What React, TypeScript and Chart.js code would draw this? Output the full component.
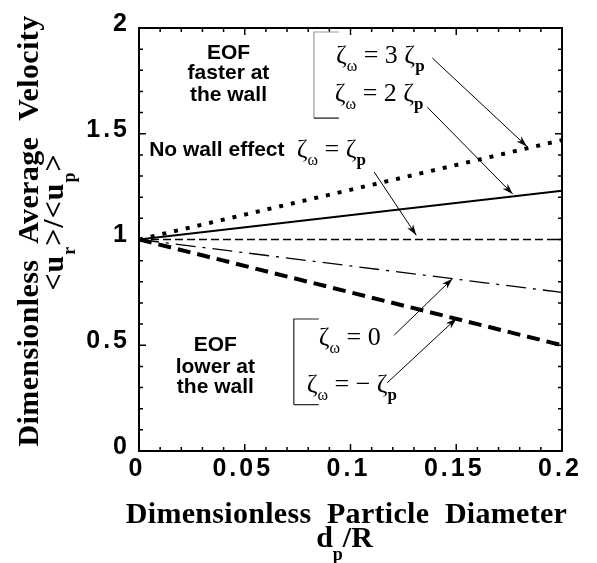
import React, { useEffect, useRef } from "react";
import { Chart, registerables } from "chart.js";
Chart.register(...registerables);

// ---- data ----
const xValues = [0, 0.2];
const seriesZeta3 = [1, 1.47]; // ζω = 3 ζp
const seriesZeta2 = [1, 1.23]; // ζω = 2 ζp
const seriesZeta1 = [1, 1.0]; // ζω = ζp
const seriesZeta0 = [1, 0.75]; // ζω = 0
const seriesZetaNeg = [1, 0.5]; // ζω = −ζp
const xTickValues = [0, 0.05, 0.1, 0.15, 0.2];
const xTickLabels = ["0", "0.05", "0.1", "0.15", "0.2"];
const yTickValues = [0, 0.5, 1, 1.5, 2];
const yTickLabels = ["0", "0.5", "1", "1.5", "2"];

const SANS = "'Liberation Sans', Arial, sans-serif";
const SERIF = "'Liberation Serif', 'Times New Roman', serif";

type Seg = { t: string; font: string; dy?: number };

function drawSegs(ctx: CanvasRenderingContext2D, segs: Seg[], x: number, y: number, align: "left" | "center" = "left") {
  let total = 0;
  const widths = segs.map((s) => {
    ctx.font = s.font;
    const w = ctx.measureText(s.t).width;
    total += w;
    return w;
  });
  let cx = align === "center" ? x - total / 2 : x;
  ctx.textAlign = "left";
  ctx.textBaseline = "alphabetic";
  segs.forEach((s, i) => {
    ctx.font = s.font;
    ctx.fillText(s.t, cx, y + (s.dy || 0));
    cx += widths[i];
  });
}

const zMain = `26px ${SERIF}`;
const zSub = `16px ${SERIF}`;
const zSubB = `bold 17px ${SERIF}`;

const eqNotes: { x: number; y: number; segs: Seg[] }[] = [
  { x: 0.0931, y: 1.835, segs: [{ t: "ζ", font: zMain }, { t: "ω", font: zSub, dy: 8 }, { t: " = 3 ", font: zMain }, { t: "ζ", font: zMain }, { t: "p", font: zSubB, dy: 8 }] },
  { x: 0.0926, y: 1.655, segs: [{ t: "ζ", font: zMain }, { t: "ω", font: zSub, dy: 8 }, { t: " = 2 ", font: zMain }, { t: "ζ", font: zMain }, { t: "p", font: zSubB, dy: 8 }] },
  { x: 0.0746, y: 1.39, segs: [{ t: "ζ", font: zMain }, { t: "ω", font: zSub, dy: 8 }, { t: " = ", font: zMain }, { t: "ζ", font: zMain }, { t: "p", font: zSubB, dy: 8 }] },
  { x: 0.085, y: 0.5, segs: [{ t: "ζ", font: zMain }, { t: "ω", font: zSub, dy: 8 }, { t: " = 0", font: zMain }] },
  { x: 0.0793, y: 0.279, segs: [{ t: "ζ", font: zMain }, { t: "ω", font: zSub, dy: 8 }, { t: " = − ", font: zMain }, { t: "ζ", font: zMain }, { t: "p", font: zSubB, dy: 8 }] },
];

const boldNotes: { x: number; y: number; t: string; align: "left" | "center" }[] = [
  { x: 0.0423, y: 1.882, t: "EOF", align: "center" },
  { x: 0.0423, y: 1.787, t: "faster at", align: "center" },
  { x: 0.0423, y: 1.683, t: "the wall", align: "center" },
  { x: 0.0048, y: 1.423, t: "No wall effect", align: "left" },
  { x: 0.0361, y: 0.501, t: "EOF", align: "center" },
  { x: 0.0361, y: 0.397, t: "lower at", align: "center" },
  { x: 0.0361, y: 0.303, t: "the wall", align: "center" },
];

const arrows = [
  { x1: 0.1387, y1: 1.858, x2: 0.1834, y2: 1.44 },
  { x1: 0.1363, y1: 1.626, x2: 0.1767, y2: 1.215 },
  { x1: 0.1112, y1: 1.319, x2: 0.1311, y2: 1.02 },
  { x1: 0.1207, y1: 0.548, x2: 0.1482, y2: 0.815 },
  { x1: 0.1173, y1: 0.322, x2: 0.1501, y2: 0.627 },
];

const brackets = [
  { x: 0.0827, xArm: 0.0945, yTop: 1.981, yBot: 1.574, color: "#999", armColor: "#111" },
  { x: 0.0732, xArm: 0.085, yTop: 0.624, yBot: 0.219, color: "#222", armColor: "#222" },
];

const decorPlugin = {
  id: "decor",
  beforeDraw(chart: any) {
    (chart.ctx as any).letterSpacing = "3px";
  },
  afterDraw(chart: any) {
    const ctx: CanvasRenderingContext2D = chart.ctx;
    (ctx as any).letterSpacing = "0px";
    const xs = chart.scales.x;
    const ys = chart.scales.y;
    const a = chart.chartArea;
    const px = (v: number) => xs.getPixelForValue(v);
    const py = (v: number) => ys.getPixelForValue(v);
    ctx.save();
    ctx.fillStyle = "#000";
    ctx.strokeStyle = "#000";

    // frame
    ctx.lineWidth = 2;
    ctx.strokeRect(a.left, a.top, a.right - a.left, a.bottom - a.top);

    // ticks (inward, all four sides)
    ctx.lineWidth = 1.5;
    ctx.beginPath();
    for (let i = 0; i <= 20; i++) {
      const v = i * 0.01;
      const len = i % 5 === 0 ? 7 : 4;
      const x = px(v);
      ctx.moveTo(x, a.bottom);
      ctx.lineTo(x, a.bottom - len);
      ctx.moveTo(x, a.top);
      ctx.lineTo(x, a.top + len);
    }
    for (let i = 0; i <= 20; i++) {
      const v = i * 0.1;
      const len = i % 5 === 0 ? 7 : 4;
      const y = py(v);
      ctx.moveTo(a.left, y);
      ctx.lineTo(a.left + len, y);
      ctx.moveTo(a.right, y);
      ctx.lineTo(a.right - len, y);
    }
    ctx.stroke();

    // brackets
    brackets.forEach((b) => {
      ctx.lineWidth = 1.2;
      ctx.strokeStyle = b.color;
      ctx.beginPath();
      ctx.moveTo(px(b.xArm), py(b.yTop));
      ctx.lineTo(px(b.x), py(b.yTop));
      ctx.lineTo(px(b.x), py(b.yBot));
      ctx.stroke();
      ctx.strokeStyle = b.armColor;
      ctx.beginPath();
      ctx.moveTo(px(b.x), py(b.yBot));
      ctx.lineTo(px(b.xArm), py(b.yBot));
      ctx.stroke();
    });
    ctx.strokeStyle = "#000";

    // arrows
    arrows.forEach((ar) => {
      const x1 = px(ar.x1), y1 = py(ar.y1), x2 = px(ar.x2), y2 = py(ar.y2);
      ctx.lineWidth = 1;
      ctx.beginPath();
      ctx.moveTo(x1, y1);
      ctx.lineTo(x2, y2);
      ctx.stroke();
      const ang = Math.atan2(y2 - y1, x2 - x1);
      const L = 11, W = 3.5;
      ctx.beginPath();
      ctx.moveTo(x2, y2);
      ctx.lineTo(x2 - L * Math.cos(ang) + W * Math.sin(ang), y2 - L * Math.sin(ang) - W * Math.cos(ang));
      ctx.lineTo(x2 - L * 0.7 * Math.cos(ang), y2 - L * 0.7 * Math.sin(ang));
      ctx.lineTo(x2 - L * Math.cos(ang) - W * Math.sin(ang), y2 - L * Math.sin(ang) + W * Math.cos(ang));
      ctx.closePath();
      ctx.fill();
    });

    // bold notes
    ctx.font = `bold 21px ${SANS}`;
    ctx.textBaseline = "middle";
    boldNotes.forEach((n) => {
      ctx.textAlign = n.align;
      ctx.fillText(n.t, px(n.x), py(n.y));
    });

    // equation notes
    eqNotes.forEach((n) => drawSegs(ctx, n.segs, px(n.x), py(n.y)));

    // x axis title
    const cxm = (a.left + a.right) / 2;
    ctx.textAlign = "center";
    ctx.textBaseline = "alphabetic";
    ctx.font = `bold 30px ${SERIF}`;
    (ctx as any).letterSpacing = "0.3px";
    ctx.fillText("Dimensionless  Particle  Diameter", cxm - 4, 523);
    (ctx as any).letterSpacing = "0px";
    drawSegs(
      ctx,
      [
        { t: "d", font: `bold 30px ${SERIF}` },
        { t: "p", font: `bold 18px ${SERIF}`, dy: 13 },
        { t: "/R", font: `bold 30px ${SERIF}` },
      ],
      cxm - 6,
      547,
      "center"
    );

    // y axis title (rotated)
    ctx.save();
    ctx.translate(38, 231);
    ctx.rotate(-Math.PI / 2);
    ctx.font = `bold 30px ${SERIF}`;
    ctx.textAlign = "center";
    (ctx as any).letterSpacing = "0.4px";
    ctx.fillText("Dimensionless  Average  Velocity", 0, 0);
    ctx.restore();
    ctx.save();
    ctx.translate(63, 222);
    ctx.rotate(-Math.PI / 2);
    (ctx as any).letterSpacing = "1px";
    drawSegs(
      ctx,
      [
        { t: "<u", font: `bold 30px ${SERIF}` },
        { t: "r", font: `bold 18px ${SERIF}`, dy: 12 },
        { t: ">/<u", font: `bold 30px ${SERIF}` },
        { t: "p", font: `bold 18px ${SERIF}`, dy: 12 },
        { t: ">", font: `bold 30px ${SERIF}` },
      ],
      0,
      0,
      "center"
    );
    (ctx as any).letterSpacing = "0px";
    ctx.restore();

    ctx.restore();
  },
};

function toPts(ys: number[]) {
  return xValues.map((x, i) => ({ x, y: ys[i] }));
}

export default function App() {
  const ref = useRef<HTMLCanvasElement | null>(null);
  useEffect(() => {
    if (!ref.current) return;
    const base = { pointRadius: 0, borderColor: "#000", fill: false, tension: 0 };
    const chart = new Chart(ref.current, {
      type: "line",
      data: {
        datasets: [
          { ...base, label: "3", data: toPts(seriesZeta3), borderWidth: 4, borderDash: [4, 8] },
          { ...base, label: "2", data: toPts(seriesZeta2), borderWidth: 2 },
          { ...base, label: "1", data: toPts(seriesZeta1), borderWidth: 1.6, borderDash: [8, 4] },
          { ...base, label: "0", data: toPts(seriesZeta0), borderWidth: 1.3, borderDash: [20, 7, 3, 7] },
          { ...base, label: "-1", data: toPts(seriesZetaNeg), borderWidth: 4, borderDash: [13, 7] },
        ],
      },
      options: {
        animation: false,
        responsive: false,
        layout: { padding: { top: 28, right: 35, left: 0, bottom: 0 } },
        plugins: { legend: { display: false }, tooltip: { enabled: false } },
        scales: {
          x: {
            type: "linear",
            min: 0,
            max: 0.2,
            grid: { display: false, drawTicks: false },
            border: { display: false },
            afterBuildTicks: (s: any) => {
              s.ticks = xTickValues.map((v) => ({ value: v }));
            },
            afterFit: (s: any) => {
              s.height = 112;
            },
            ticks: {
              color: "#000",
              padding: 3,
              labelOffset: -2,
              maxRotation: 0,
              font: { family: SANS, weight: "bold", size: 25 },
              callback: (_v: any, i: number) => xTickLabels[i],
            },
          },
          y: {
            type: "linear",
            min: 0,
            max: 2,
            grid: { display: false, drawTicks: false },
            border: { display: false },
            afterBuildTicks: (s: any) => {
              s.ticks = yTickValues.map((v) => ({ value: v }));
            },
            afterFit: (s: any) => {
              s.width = 139;
            },
            ticks: {
              color: "#000",
              padding: 9,
              labelOffset: -4,
              font: { family: SANS, weight: "bold", size: 25 },
              callback: (_v: any, i: number) => yTickLabels[i],
            },
          },
        },
      } as any,
      plugins: [decorPlugin],
    });
    return () => chart.destroy();
  }, []);
  return (
    <div style={{ position: "absolute", left: 0, top: 0, width: 597, height: 563, background: "#fff" }}>
      <canvas ref={ref} width={597} height={563} style={{ width: 597, height: 563 }} />
    </div>
  );
}
